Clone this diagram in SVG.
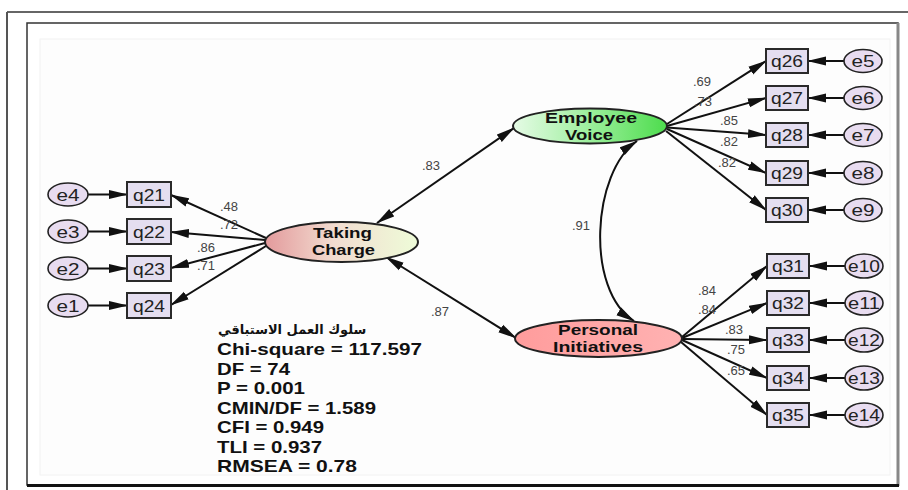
<svg xmlns="http://www.w3.org/2000/svg" width="908" height="490" viewBox="0 0 908 490">
<style>
.obs{fill:#e4def0;stroke:#2a2a2a;stroke-width:2}
.err{fill:#e8dcf0;stroke:#222;stroke-width:1.6}
.lat{stroke:#222;stroke-width:2}
.lbl{font-family:"Liberation Sans",Arial,sans-serif;font-size:17px;fill:#222;text-anchor:middle}
.ltx{font-family:"Liberation Sans",Arial,sans-serif;font-size:15px;font-weight:bold;fill:#111;text-anchor:middle}
.num{font-family:"Liberation Sans",Arial,sans-serif;font-size:13px;fill:#444}
.st{font-family:"Liberation Sans",Arial,sans-serif;font-size:17px;font-weight:bold;fill:#111}
.cn{stroke:#111;stroke-width:2;fill:none}
.one{marker-end:url(#ah)}
.two{marker-start:url(#ah);marker-end:url(#ah)}
</style>
<defs>
<marker id="ah" markerUnits="userSpaceOnUse" markerWidth="19" markerHeight="10" refX="18" refY="5" orient="auto-start-reverse">
<path d="M0,0.5 L19,5 L0,9.5 Z" fill="#111"/>
</marker>
<linearGradient id="gTC" x1="0" y1="0" x2="1" y2="0">
<stop offset="0" stop-color="#e39a9c"/>
<stop offset="0.45" stop-color="#f2dcd0"/>
<stop offset="1" stop-color="#eefcd8"/>
</linearGradient>
<linearGradient id="gEV" x1="0" y1="0" x2="1" y2="0">
<stop offset="0" stop-color="#e6fbe6"/>
<stop offset="0.5" stop-color="#9cef9c"/>
<stop offset="1" stop-color="#4ddc4d"/>
</linearGradient>
<linearGradient id="gPI" x1="0" y1="0" x2="1" y2="0">
<stop offset="0" stop-color="#ff9c9c"/>
<stop offset="1" stop-color="#ffb2b2"/>
</linearGradient>
</defs>
<rect width="908" height="490" fill="#ffffff"/>
<g id="frames">
<line x1="7" y1="12" x2="908" y2="12" stroke="#333" stroke-width="1.5"/>
<line x1="7" y1="12" x2="7" y2="490" stroke="#555" stroke-width="2"/>
<rect x="27" y="23" width="871" height="462" fill="#ffffff" stroke="#333" stroke-width="1.5"/>
<line x1="898" y1="23" x2="898" y2="486" stroke="#888" stroke-width="3"/>
<line x1="27" y1="485.5" x2="899" y2="485.5" stroke="#111" stroke-width="3"/>
<rect x="40" y="39" width="850" height="436" fill="#fdfdfd" stroke="#f2f2f2" stroke-width="1"/>
</g>
<g id="connectors">
<path class="cn one" d="M88,194.5 L127,194.5"/>
<path class="cn one" d="M88,231.5 L127,231.5"/>
<path class="cn one" d="M88,268.5 L127,268.5"/>
<path class="cn one" d="M88,305.5 L127,305.5"/>
<path class="cn one" d="M266,238 L171,195"/>
<path class="cn one" d="M265,240 L171,232"/>
<path class="cn one" d="M265,243 L171,268"/>
<path class="cn one" d="M266,246 L171,305"/>
<path class="cn one" d="M667,124 L766,61"/>
<path class="cn one" d="M667,126 L766,98"/>
<path class="cn one" d="M667,127.5 L766,135"/>
<path class="cn one" d="M667,129 L766,173"/>
<path class="cn one" d="M666,131 L766,210"/>
<path class="cn one" d="M844,61 L808,61"/>
<path class="cn one" d="M844,98 L808,98"/>
<path class="cn one" d="M844,135 L808,135"/>
<path class="cn one" d="M844,173 L808,173"/>
<path class="cn one" d="M844,210 L808,210"/>
<path class="cn one" d="M682,337 L767,266"/>
<path class="cn one" d="M682,338 L767,303"/>
<path class="cn one" d="M682,339 L767,340"/>
<path class="cn one" d="M682,340 L767,378"/>
<path class="cn one" d="M681,342 L767,415"/>
<path class="cn one" d="M845,266 L809,266"/>
<path class="cn one" d="M845,303 L809,303"/>
<path class="cn one" d="M845,340 L809,340"/>
<path class="cn one" d="M845,378 L809,378"/>
<path class="cn one" d="M845,415 L809,415"/>
<path class="cn two" d="M377,223 L514,128"/>
<path class="cn two" d="M386,257 L516,338"/>
<path class="cn two" d="M637,141 C592,172 585,290 634,321"/>
</g>
<g id="labels">
<text class="num" x="422" y="170">.83</text>
<text class="num" x="431" y="316">.87</text>
<text class="num" x="572" y="230">.91</text>
<text class="num" x="220" y="211">.48</text>
<text class="num" x="220" y="229">.72</text>
<text class="num" x="197" y="252">.86</text>
<text class="num" x="197" y="270">.71</text>
<text class="num" x="693" y="86">.69</text>
<text class="num" x="694" y="106">.73</text>
<text class="num" x="720" y="125">.85</text>
<text class="num" x="720" y="146">.82</text>
<text class="num" x="718" y="167">.82</text>
<text class="num" x="698" y="295">.84</text>
<text class="num" x="698" y="314">.84</text>
<text class="num" x="725" y="334">.83</text>
<text class="num" x="727" y="354">.75</text>
<text class="num" x="727" y="375">.65</text>
</g>
<g id="TakingCharge">
<ellipse class="lat" cx="341.5" cy="242" rx="76.5" ry="20" fill="url(#gTC)"/>
<text class="ltx" x="342.5" y="237.5" textLength="59" lengthAdjust="spacingAndGlyphs">Taking</text>
<text class="ltx" x="343.5" y="255" textLength="63" lengthAdjust="spacingAndGlyphs">Charge</text>
</g>
<g id="EmployeeVoice">
<ellipse class="lat" cx="590" cy="126" rx="77" ry="17.5" fill="url(#gEV)"/>
<text class="ltx" x="591" y="123" textLength="92" lengthAdjust="spacingAndGlyphs">Employee</text>
<text class="ltx" x="589" y="140" textLength="48" lengthAdjust="spacingAndGlyphs">Voice</text>
</g>
<g id="PersonalInitiatives">
<ellipse class="lat" cx="598.5" cy="338.5" rx="83.5" ry="18.5" fill="url(#gPI)"/>
<text class="ltx" x="598" y="335" textLength="80" lengthAdjust="spacingAndGlyphs">Personal</text>
<text class="ltx" x="598" y="352" textLength="90" lengthAdjust="spacingAndGlyphs">Initiatives</text>
</g>
<g id="q21"><rect class="obs" x="127" y="182" width="44" height="25"/><text class="lbl" x="149" y="200.5" textLength="32" lengthAdjust="spacingAndGlyphs">q21</text></g>
<g id="q22"><rect class="obs" x="127" y="219" width="44" height="25"/><text class="lbl" x="149" y="237.5" textLength="32" lengthAdjust="spacingAndGlyphs">q22</text></g>
<g id="q23"><rect class="obs" x="127" y="256" width="44" height="25"/><text class="lbl" x="149" y="274.5" textLength="32" lengthAdjust="spacingAndGlyphs">q23</text></g>
<g id="q24"><rect class="obs" x="127" y="293" width="44" height="25"/><text class="lbl" x="149" y="311.5" textLength="32" lengthAdjust="spacingAndGlyphs">q24</text></g>
<g id="e4"><ellipse class="err" cx="68" cy="194.5" rx="20" ry="11.5"/><text class="lbl" x="68" y="200.5" textLength="23" lengthAdjust="spacingAndGlyphs">e4</text></g>
<g id="e3"><ellipse class="err" cx="68" cy="231.5" rx="20" ry="11.5"/><text class="lbl" x="68" y="237.5" textLength="23" lengthAdjust="spacingAndGlyphs">e3</text></g>
<g id="e2"><ellipse class="err" cx="68" cy="268.5" rx="20" ry="11.5"/><text class="lbl" x="68" y="274.5" textLength="23" lengthAdjust="spacingAndGlyphs">e2</text></g>
<g id="e1"><ellipse class="err" cx="68" cy="305.5" rx="20" ry="11.5"/><text class="lbl" x="68" y="311.5" textLength="23" lengthAdjust="spacingAndGlyphs">e1</text></g>
<g id="q26"><rect class="obs" x="766" y="49" width="42" height="24"/><text class="lbl" x="787" y="67" textLength="32" lengthAdjust="spacingAndGlyphs">q26</text></g>
<g id="q27"><rect class="obs" x="766" y="86" width="42" height="24"/><text class="lbl" x="787" y="104" textLength="32" lengthAdjust="spacingAndGlyphs">q27</text></g>
<g id="q28"><rect class="obs" x="766" y="123" width="42" height="24"/><text class="lbl" x="787" y="141" textLength="32" lengthAdjust="spacingAndGlyphs">q28</text></g>
<g id="q29"><rect class="obs" x="766" y="161" width="42" height="24"/><text class="lbl" x="787" y="179" textLength="32" lengthAdjust="spacingAndGlyphs">q29</text></g>
<g id="q30"><rect class="obs" x="766" y="198" width="42" height="24"/><text class="lbl" x="787" y="216" textLength="32" lengthAdjust="spacingAndGlyphs">q30</text></g>
<g id="e5"><ellipse class="err" cx="863" cy="61" rx="19" ry="11.5"/><text class="lbl" x="863" y="67" textLength="23" lengthAdjust="spacingAndGlyphs">e5</text></g>
<g id="e6"><ellipse class="err" cx="863" cy="98" rx="19" ry="11.5"/><text class="lbl" x="863" y="104" textLength="23" lengthAdjust="spacingAndGlyphs">e6</text></g>
<g id="e7"><ellipse class="err" cx="863" cy="135" rx="19" ry="11.5"/><text class="lbl" x="863" y="141" textLength="23" lengthAdjust="spacingAndGlyphs">e7</text></g>
<g id="e8"><ellipse class="err" cx="863" cy="173" rx="19" ry="11.5"/><text class="lbl" x="863" y="179" textLength="23" lengthAdjust="spacingAndGlyphs">e8</text></g>
<g id="e9"><ellipse class="err" cx="863" cy="210" rx="19" ry="11.5"/><text class="lbl" x="863" y="216" textLength="23" lengthAdjust="spacingAndGlyphs">e9</text></g>
<g id="q31"><rect class="obs" x="767" y="254" width="42" height="24"/><text class="lbl" x="788" y="272" textLength="32" lengthAdjust="spacingAndGlyphs">q31</text></g>
<g id="q32"><rect class="obs" x="767" y="291" width="42" height="24"/><text class="lbl" x="788" y="309" textLength="32" lengthAdjust="spacingAndGlyphs">q32</text></g>
<g id="q33"><rect class="obs" x="767" y="328" width="42" height="24"/><text class="lbl" x="788" y="346" textLength="32" lengthAdjust="spacingAndGlyphs">q33</text></g>
<g id="q34"><rect class="obs" x="767" y="366" width="42" height="24"/><text class="lbl" x="788" y="384" textLength="32" lengthAdjust="spacingAndGlyphs">q34</text></g>
<g id="q35"><rect class="obs" x="767" y="403" width="42" height="24"/><text class="lbl" x="788" y="421" textLength="32" lengthAdjust="spacingAndGlyphs">q35</text></g>
<g id="e10"><ellipse class="err" cx="864" cy="266" rx="19" ry="12"/><text class="lbl" x="864" y="272" textLength="32" lengthAdjust="spacingAndGlyphs">e10</text></g>
<g id="e11"><ellipse class="err" cx="864" cy="303" rx="19" ry="12"/><text class="lbl" x="864" y="309" textLength="32" lengthAdjust="spacingAndGlyphs">e11</text></g>
<g id="e12"><ellipse class="err" cx="864" cy="340" rx="19" ry="12"/><text class="lbl" x="864" y="346" textLength="32" lengthAdjust="spacingAndGlyphs">e12</text></g>
<g id="e13"><ellipse class="err" cx="864" cy="378" rx="19" ry="12"/><text class="lbl" x="864" y="384" textLength="32" lengthAdjust="spacingAndGlyphs">e13</text></g>
<g id="e14"><ellipse class="err" cx="864" cy="415" rx="19" ry="12"/><text class="lbl" x="864" y="421" textLength="32" lengthAdjust="spacingAndGlyphs">e14</text></g>
<g id="fitStats">
<text x="218" y="334" text-anchor="start" style="font-family:'DejaVu Sans',sans-serif;font-size:13px;font-weight:bold;fill:#111">سلوك العمل الاستباقي</text>
<text class="st" x="217" y="355" textLength="205" lengthAdjust="spacingAndGlyphs">Chi-square = 117.597</text>
<text class="st" x="217" y="374.5" textLength="73" lengthAdjust="spacingAndGlyphs">DF = 74</text>
<text class="st" x="217" y="394" textLength="88" lengthAdjust="spacingAndGlyphs">P = 0.001</text>
<text class="st" x="217" y="413.5" textLength="159" lengthAdjust="spacingAndGlyphs">CMIN/DF = 1.589</text>
<text class="st" x="217" y="433" textLength="107" lengthAdjust="spacingAndGlyphs">CFI = 0.949</text>
<text class="st" x="217" y="452.5" textLength="105" lengthAdjust="spacingAndGlyphs">TLI = 0.937</text>
<text class="st" x="217" y="472" textLength="140" lengthAdjust="spacingAndGlyphs">RMSEA = 0.78</text>
</g>
</svg>
